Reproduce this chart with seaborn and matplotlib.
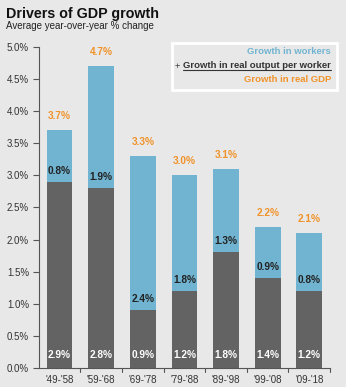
import matplotlib
matplotlib.use("Agg")
import matplotlib.pyplot as plt
import seaborn as sns
import pandas as pd
from matplotlib.lines import Line2D
from matplotlib.patches import Rectangle

periods = ["'49-'58", "'59-'68", "'69-'78", "'79-'88", "'89-'98", "'99-'08", "'09-'18"]
output_per_worker = [2.9, 2.8, 0.9, 1.2, 1.8, 1.4, 1.2]
workers = [0.8, 1.9, 2.4, 1.8, 1.3, 0.9, 0.8]
real_gdp = [3.7, 4.7, 3.3, 3.0, 3.1, 2.2, 2.1]
yticks = [0.0, 0.5, 1.0, 1.5, 2.0, 2.5, 3.0, 3.5, 4.0, 4.5, 5.0]

BG = "#e8e8e8"
BLUE = "#71b4d1"
GRAY = "#636363"
ORANGE = "#f0932b"
TXT = "#222222"

sns.set_theme(style="white")
plt.rcParams["font.family"] = ["Liberation Sans", "DejaVu Sans"]

df = pd.DataFrame({"period": periods, "opw": output_per_worker,
                   "workers": workers, "gdp": real_gdp})

fig = plt.figure(figsize=(3.46, 3.87), dpi=100, facecolor=BG)
ax = fig.add_axes([0.112, 0.049, 0.842, 0.830])
ax.set_facecolor(BG)

sns.barplot(data=df, x="period", y="gdp", color=BLUE, saturation=1, width=0.62,
            ax=ax, linewidth=0, order=periods)
sns.barplot(data=df, x="period", y="opw", color=GRAY, saturation=1, width=0.62,
            ax=ax, linewidth=0, order=periods)

ax.set_ylim(0, 5.0)
ax.set_xlim(-0.5, len(periods) - 0.5)
ax.set_yticks(yticks)
ax.set_yticklabels([f"{v:.1f}%" for v in yticks], fontsize=7, color="#333333")
ax.set_xticks(range(len(periods)))
ax.set_xticklabels(periods, fontsize=7, color="#333333")
ax.set_xlabel("")
ax.set_ylabel("")
ax.tick_params(axis="x", length=0, pad=5)
ax.tick_params(axis="y", length=4, width=0.8, color="#555555", direction="out", pad=3, left=True)
for b in [i + 0.5 for i in range(len(periods))]:
    ax.plot([b, b], [0, -0.06], color="#555555", lw=0.8, clip_on=False)

for s in ["top", "right"]:
    ax.spines[s].set_visible(False)
for s in ["left", "bottom"]:
    ax.spines[s].set_color("#555555")
    ax.spines[s].set_linewidth(0.8)

for i in range(len(periods)):
    ax.text(i, real_gdp[i] + 0.22, f"{real_gdp[i]:.1f}%", ha="center", va="center",
            fontsize=7.3, fontweight="bold", color=ORANGE)
    ax.text(i, output_per_worker[i] + 0.17, f"{workers[i]:.1f}%", ha="center", va="center",
            fontsize=7.3, fontweight="bold", color=TXT)
    ax.text(i, 0.2, f"{output_per_worker[i]:.1f}%", ha="center", va="center",
            fontsize=7.3, fontweight="bold", color="white")

fig.text(0.017, 0.965, "Drivers of GDP growth", fontsize=10.3, fontweight="bold",
         color="#111111", va="center", ha="left")
fig.text(0.017, 0.933, "Average year-over-year % change", fontsize=7,
         color="#222222", va="center", ha="left")

W, H = 346, 387
box = Rectangle((172 / W, 1 - 90 / H), (337 - 172) / W, (90 - 43) / H,
                transform=fig.transFigure, facecolor=BG, edgecolor="white", lw=2)
fig.add_artist(box)
xr = 331 / W
fig.text(xr, 1 - 52 / H, "Growth in workers", fontsize=6.8, fontweight="bold",
         color=BLUE, ha="right", va="center")
t2 = fig.text(xr, 1 - 66 / H, "Growth in real output per worker", fontsize=6.8,
              fontweight="bold", color="#333333", ha="right", va="center")
fig.text(xr, 1 - 79 / H, "Growth in real GDP", fontsize=6.8, fontweight="bold",
         color=ORANGE, ha="right", va="center")

fig.canvas.draw()
bb = t2.get_window_extent().transformed(fig.transFigure.inverted())
fig.text(bb.x0 - 0.01, 1 - 66 / H, "+", fontsize=6.8,
         color="#333333", ha="right", va="center")
fig.add_artist(Line2D([bb.x0, bb.x1], [bb.y0 + 0.001, bb.y0 + 0.001],
                      transform=fig.transFigure, color="#333333", lw=0.8))

fig.savefig("out.png", dpi=100, facecolor=BG)
